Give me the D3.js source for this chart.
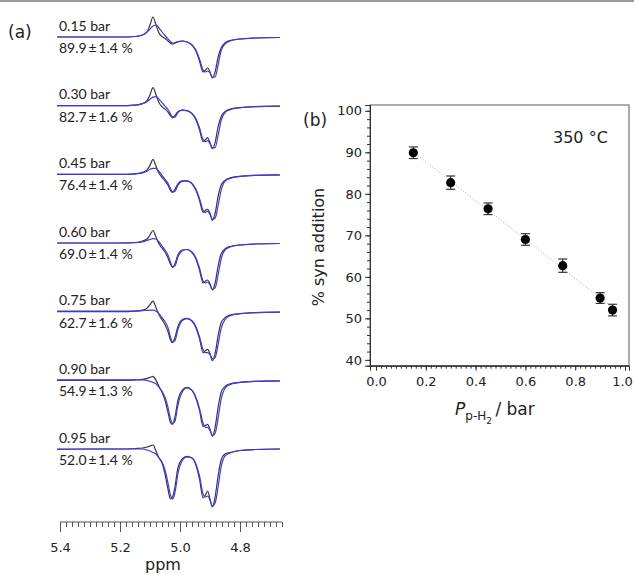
<!DOCTYPE html>
<html>
<head>
<meta charset="utf-8">
<script src="https://cdn.jsdelivr.net/npm/d3@7"></script>
<style>
  html, body { margin: 0; padding: 0; background: #fff; }
  svg { display: block; }
</style>
</head>
<body>
<svg id="chart" width="634" height="575"></svg>
<script>
// ---------- DATA ----------
// Panel (a): spectra, chemical shift grid (ppm)
const ppmGrid = [5.41, 5.30, 5.20, 5.15, 5.125, 5.11, 5.10, 5.09, 5.08, 5.07, 5.06, 5.05, 5.04, 5.032, 5.025, 5.017, 5.007, 4.993, 4.977, 4.96, 4.947, 4.935, 4.923, 4.915, 4.908, 4.90, 4.892, 4.883, 4.873, 4.863, 4.85, 4.833, 4.80, 4.75, 4.667];
const pressureLabels = ["0.15 bar", "0.30 bar", "0.45 bar", "0.60 bar", "0.75 bar", "0.90 bar", "0.95 bar"];
const synLabels = ["89.9\u2009±\u20091.4 %", "82.7\u2009±\u20091.6 %", "76.4\u2009±\u20091.4 %", "69.0\u2009±\u20091.4 %", "62.7\u2009±\u20091.6 %", "54.9\u2009±\u20091.3 %", "52.0\u2009±\u20091.4 %"];
// experimental traces (black), relative intensity
const experimentTraces = [
  [0,0,0,0.5,2,5,12,20,12,4,0.5,-1.5,-4,-6,-7,-6,-4.5,-4,-5,-8,-14,-24,-35,-33,-31,-35,-41,-35,-20,-11,-6,-3.5,-2,-1,-0.5],
  [0,0,0,0.5,2,5,11,18,11,3,-1,-3.5,-6.5,-10,-12,-10,-6,-4.5,-5,-8,-14,-24,-36,-34,-32,-37,-43,-37,-21,-11,-6,-3.5,-2,-1,-0.5],
  [0,0,0,0.5,2,4.5,9,15,8,1,-3,-6.5,-11,-16,-18,-15,-9.5,-6.5,-6.5,-9.5,-16,-26,-38,-36,-35,-39,-46,-39,-22,-11,-6,-3.5,-2,-1,-0.5],
  [0,0,0,0.5,2,4,8,12.5,6,-1,-5,-9,-15,-21,-24.5,-21,-12,-7,-6.5,-9.5,-16,-27,-40,-38,-37,-41,-47,-40,-23,-11,-6,-3.5,-2,-1,-0.5],
  [0,0,0,0.5,1.5,3.5,7,10.5,4,-3,-8,-13,-20,-28,-31,-26,-15,-8,-6.7,-9.5,-16,-27,-41,-39,-37.7,-42,-49,-42,-24,-11,-6,-3.5,-2,-1,-0.5],
  [0,0,0,0.5,1,2,3,4,0,-6,-12,-20,-32,-42,-44,-37,-20,-10,-7,-10,-18,-30,-46,-45,-44,-49,-56,-47,-27,-12,-6,-3.5,-2,-1,-0.5],
  [0,0,0,0.5,1,2,3,4,-2,-9,-14,-25,-40,-50,-48,-38,-19,-10,-7.3,-9,-16,-30,-49,-46,-42,-50,-58,-48,-27,-11,-5,-3.5,-1.5,-0.5,0]
];
// simulated traces (blue), relative intensity
const simulationTraces = [
  [0,0,0,0.5,2,5,8,11,12,9,5,1.5,-2,-4.5,-6,-6,-5,-4,-5,-8,-13,-22,-33,-35,-34,-36,-40,-40,-28,-14,-7,-4,-2,-1,-0.5],
  [0,0,0,0.5,2,4,6.5,8.5,9,6.5,3,-0.5,-4,-8,-11,-11.5,-7,-4.5,-5,-8,-13,-22,-34,-36,-35,-38,-42,-42,-30,-15,-7,-4,-2,-1,-0.5],
  [0,0,0,0.5,1.5,3,5,6,6,3,-1,-5,-9,-14,-17.5,-17,-11,-7,-6.5,-9,-15,-24,-36,-38,-37,-40,-45,-44,-31,-16,-7,-4,-2,-1,-0.5],
  [0,0,0,0.3,1,2.5,3.5,4.3,4,1,-3,-7,-12,-19,-23.5,-23,-14,-8,-6.5,-9,-15,-25,-38,-40,-39,-42,-46,-45,-32,-16,-7,-4,-2,-1,-0.5],
  [0.5,0.5,0.5,0.5,1,1.3,1.5,1.5,0.5,-2,-6,-10,-16,-25,-30,-29,-18,-9,-7,-9,-15,-25,-38,-41,-41,-43,-47,-46,-33,-17,-8,-4,-2,-1,-0.5],
  [0.5,0.5,0.5,0.5,0.5,0,-1,-2,-3.5,-7,-11,-17,-27,-38,-43,-41,-25,-12,-7.5,-10,-17,-28,-43,-47,-47,-50,-55,-53,-38,-19,-8,-4,-2,-1,-0.5],
  [-0.5,0,0,0,0,-1,-2,-3.5,-5,-9,-13,-21,-34,-46,-50,-44,-25,-12,-8,-9,-15,-27,-45,-48,-47,-51,-57,-54,-38,-18,-7,-4,-1.5,-0.5,0]
];
const ppmMajorTicks = [5.4, 5.2, 5.0, 4.8];

// Panel (b): % syn addition vs p-H2 pressure
const pressureBar = [0.15, 0.30, 0.45, 0.60, 0.75, 0.90, 0.95];
const synAddition = [89.9, 82.7, 76.4, 69.0, 62.7, 54.9, 52.0];
const synError = [1.4, 1.6, 1.4, 1.4, 1.6, 1.3, 1.4];
const fitX = [0.15, 0.95];
const fitY = [90.1, 52.6];
const xTicksB = [0.0, 0.2, 0.4, 0.6, 0.8, 1.0];
const yTicksB = [40, 50, 60, 70, 80, 90, 100];

// ---------- DRAW ----------
const svg = d3.select("#chart");
const INK = "#222";

// top grey rule
svg.append("rect").attr("x", 0).attr("y", 0).attr("width", 634).attr("height", 2).attr("fill", "#9a9a9a");

// ===== Panel (a) =====
const xs = d3.scaleLinear().domain([5.4, 4.8]).range([60, 240]);
const base = d3.scalePoint().domain(pressureLabels).range([37, 449]);
const inten = d3.scaleLinear().domain([0, 1]).range([0, -1]);

svg.append("text").attr("x", 8).attr("y", 38)
  .style("font-family", "DejaVu Sans").style("font-size", "17px").attr("fill", INK).text("(a)");

const ga = svg.append("g");
pressureLabels.forEach((lab, i) => {
  const b = base(lab);
  const mk = (vals) => d3.line()
    .x((d, j) => xs(ppmGrid[j]))
    .y(d => b + inten(d))
    .curve(d3.curveMonotoneX)(vals);
  ga.append("path").attr("d", mk(experimentTraces[i]))
    .attr("fill", "none").attr("stroke", "#3a3a3a").attr("stroke-width", 1.2);
  ga.append("path").attr("d", mk(simulationTraces[i]))
    .attr("fill", "none").attr("stroke", "#3b3be6").attr("stroke-width", 1.2);
  ga.append("text").attr("x", 59).attr("y", b - 6.5)
    .style("font-family", "Lato").style("font-size", "14px").attr("fill", INK).text(lab);
  ga.append("text").attr("x", 59).attr("y", b + 16)
    .style("font-family", "Lato").style("font-size", "14px").attr("fill", INK).text(synLabels[i]);
});

// ppm axis
const minorPpm = d3.range(0, 38).map(k => +(5.40 - k * 0.02).toFixed(2));
const axA = svg.append("g").attr("transform", "translate(0,522)");
axA.append("line").attr("x1", xs(5.4)).attr("x2", xs(4.66)).attr("y1", 0).attr("y2", 0)
  .attr("stroke", "#555").attr("stroke-width", 1);
axA.call(g => g.append("g").call(
  d3.axisBottom(xs).tickValues(minorPpm).tickSize(5).tickFormat("")
)).call(g => g.append("g").call(
  d3.axisBottom(xs).tickValues(ppmMajorTicks).tickSize(10).tickFormat(d3.format(".1f"))
));
axA.selectAll(".domain").remove();
axA.selectAll(".tick line").attr("stroke", "#555");
axA.selectAll(".tick text").attr("y", 30).attr("dy", 0)
  .style("font-family", "DejaVu Sans").style("font-size", "13px").attr("fill", INK);
svg.append("text").attr("x", 163).attr("y", 570).attr("text-anchor", "middle")
  .style("font-family", "DejaVu Sans").style("font-size", "16px").attr("fill", INK).text("ppm");

// ===== Panel (b) =====
const xb = d3.scaleLinear().domain([-0.024, 1.016]).range([370, 629]);
const yb = d3.scaleLinear().domain([38.6, 101.4]).range([365.7, 105]);

svg.append("text").attr("x", 303).attr("y", 126)
  .style("font-family", "DejaVu Sans").style("font-size", "17px").attr("fill", INK).text("(b)");

// frame
svg.append("rect").attr("x", xb.range()[0]).attr("y", yb.range()[1])
  .attr("width", xb.range()[1] - xb.range()[0]).attr("height", yb.range()[0] - yb.range()[1])
  .attr("fill", "none").attr("stroke", "#777").attr("stroke-width", 1.2);

// y axis
const gy = svg.append("g").attr("transform", `translate(${xb.range()[0]},0)`);
gy.append("g").call(d3.axisLeft(yb).tickValues(d3.range(40, 101, 2)).tickSize(3).tickFormat(""));
gy.append("g").call(d3.axisLeft(yb).tickValues(yTicksB).tickSize(5).tickPadding(3));
gy.selectAll(".domain").attr("stroke", "#333");
gy.selectAll(".tick line").attr("stroke", "#333");
gy.selectAll(".tick text").style("font-family", "DejaVu Sans").style("font-size", "13px").attr("fill", INK);

// x axis
const gx = svg.append("g").attr("transform", `translate(0,${yb.range()[0]})`);
gx.append("g").call(d3.axisBottom(xb).tickValues(d3.range(0, 51).map(k => k * 0.02)).tickSize(3).tickFormat(""));
gx.append("g").call(d3.axisBottom(xb).tickValues(xTicksB).tickSize(5).tickPadding(6).tickFormat(d3.format(".1f")));
gx.selectAll(".domain").attr("stroke", "#333");
gx.selectAll(".tick line").attr("stroke", "#333");
gx.selectAll(".tick text").style("font-family", "DejaVu Sans").style("font-size", "13px").attr("fill", INK)
  .attr("dx", d => d === 1 ? -3 : 0);

// fit line
svg.append("line").attr("x1", xb(fitX[0])).attr("y1", yb(fitY[0]))
  .attr("x2", xb(fitX[1])).attr("y2", yb(fitY[1]))
  .attr("stroke", "#aaa").attr("stroke-width", 1).attr("stroke-dasharray", "1,2");

// error bars + points
const pts = pressureBar.map((p, i) => ({ x: p, y: synAddition[i], e: synError[i] }));
const ge = svg.append("g").attr("stroke", "#333").attr("stroke-width", 1.2);
pts.forEach(d => {
  const cx = xb(d.x);
  ge.append("line").attr("x1", cx).attr("x2", cx).attr("y1", yb(d.y - d.e)).attr("y2", yb(d.y + d.e));
  ge.append("line").attr("x1", cx - 4.5).attr("x2", cx + 4.5).attr("y1", yb(d.y - d.e)).attr("y2", yb(d.y - d.e));
  ge.append("line").attr("x1", cx - 4.5).attr("x2", cx + 4.5).attr("y1", yb(d.y + d.e)).attr("y2", yb(d.y + d.e));
});
svg.append("g").selectAll("circle").data(pts).join("circle")
  .attr("cx", d => xb(d.x)).attr("cy", d => yb(d.y)).attr("r", 4.6).attr("fill", "#000");

// labels
svg.append("text").attr("x", 553).attr("y", 143)
  .style("font-family", "DejaVu Sans").style("font-size", "16px").attr("fill", INK).text("350 °C");

svg.append("text").attr("transform", "translate(324,247) rotate(-90)").attr("text-anchor", "middle")
  .style("font-family", "DejaVu Sans").style("font-size", "16px").attr("fill", INK).text("% syn addition");

const xt = svg.append("text").attr("x", 455).attr("y", 415)
  .style("font-family", "DejaVu Sans").attr("fill", INK);
xt.append("tspan").style("font-size", "17px").style("font-style", "italic").text("P");
xt.append("tspan").style("font-size", "12px").attr("dy", 5).text("p-H");
xt.append("tspan").style("font-size", "9px").attr("dy", 4).text("2");
xt.append("tspan").style("font-size", "17px").attr("dy", -9).text("\u2009/ bar");
</script>
</body>
</html>
